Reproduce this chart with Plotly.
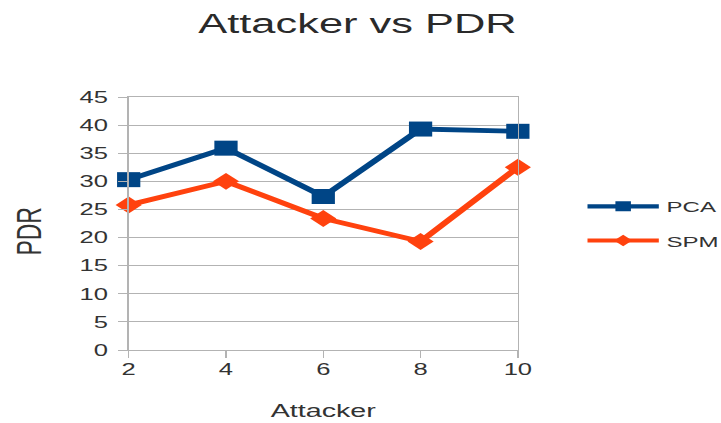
import plotly.graph_objects as go

attackers = [2, 4, 6, 8, 10]
pca = [30.3, 35.9, 27.3, 39.3, 38.9]
spm = [25.8, 30.0, 23.4, 19.3, 32.5]
y_ticks = [0, 5, 10, 15, 20, 25, 30, 35, 40, 45]

PCA_COLOR = "#004586"
SPM_COLOR = "#ff420e"
GRID = "#b3b3b3"
TEXT = "#333333"
FONT = "Liberation Sans, Arial, sans-serif"

# The chart is laid out on a narrower canvas and widened horizontally
# by STRETCH when the page loads (wide glyphs and flattened markers).
PAGE_W, PAGE_H = 721, 423
STRETCH = 1.5505
FIG_W = round(PAGE_W / STRETCH)

fig = go.Figure()
fig.add_trace(go.Scatter(
    x=attackers, y=pca, name="PCA", mode="lines+markers", showlegend=False,
    line=dict(color=PCA_COLOR, width=4.8),
    marker=dict(symbol="square", size=15, color=PCA_COLOR),
    cliponaxis=False,
))
fig.add_trace(go.Scatter(
    x=attackers, y=spm, name="SPM", mode="lines+markers", showlegend=False,
    line=dict(color=SPM_COLOR, width=4.8),
    marker=dict(symbol="diamond", size=13, color=SPM_COLOR),
    cliponaxis=False,
))
# legend entries with the smaller legend symbols
fig.add_trace(go.Scatter(
    x=[None], y=[None], name="PCA", mode="lines+markers", legendgroup="pca",
    line=dict(color=PCA_COLOR, width=4.2),
    marker=dict(symbol="square", size=10, color=PCA_COLOR),
))
fig.add_trace(go.Scatter(
    x=[None], y=[None], name="SPM", mode="lines+markers", legendgroup="spm",
    line=dict(color=SPM_COLOR, width=4.2),
    marker=dict(symbol="diamond", size=9, color=SPM_COLOR),
))

fig.update_layout(
    width=FIG_W, height=PAGE_H,
    margin=dict(l=83, r=131, t=97, b=73, autoexpand=False),
    paper_bgcolor="white", plot_bgcolor="white",
    font=dict(family=FONT, color=TEXT),
    title=dict(text="Attacker vs PDR", x=0.4958, xref="container", xanchor="center",
               y=0.945, yanchor="middle", font=dict(size=28, color="#2a2a2a")),
    xaxis=dict(
        range=[2, 10], tickvals=attackers, ticktext=[str(a) for a in attackers],
        showgrid=False, zeroline=False, showline=True, linecolor=GRID,
        mirror=True, ticks="outside", ticklen=7, tickcolor=GRID,
        ticklabelstandoff=-3, automargin=False,
        tickfont=dict(size=16.5, color=TEXT),
        title=dict(text="Attacker", font=dict(size=18.5, color=TEXT), standoff=27),
    ),
    yaxis=dict(
        range=[0, 45], tickvals=y_ticks, ticktext=[str(v) for v in y_ticks],
        showgrid=True, gridcolor=GRID, gridwidth=1,
        zeroline=False, showline=True, linecolor=GRID, mirror=True,
        ticks="outside", ticklen=6, tickcolor=GRID, ticklabelstandoff=3,
        automargin=False,
        tickfont=dict(size=16.5, color=TEXT),
    ),
    annotations=[dict(
        text="PDR", xref="paper", yref="paper", x=-0.257, y=0.47,
        xanchor="center", yanchor="middle", textangle=-90, showarrow=False,
        font=dict(size=23, color=TEXT),
    )],
    legend=dict(x=1.159, y=0.499, xanchor="left", yanchor="middle",
                font=dict(size=15.5, color=TEXT), tracegroupgap=11,
                itemwidth=46, bgcolor="rgba(0,0,0,0)"),
)

stretch_js = (
    "var gd = document.querySelector('.plotly-graph-div');"
    "gd.style.transformOrigin = '0 0';"
    "gd.style.transform = 'scaleX(%s)';" % STRETCH
)

fig.write_html("out.html", post_script=stretch_js)
